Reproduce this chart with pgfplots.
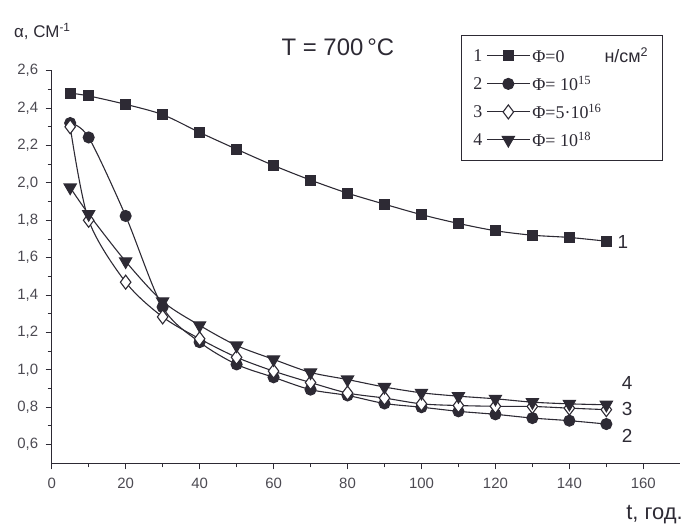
\documentclass[border=0pt]{standalone}
\usepackage{fontspec}
\setmainfont{Liberation Sans}
\newfontfamily\legfont{Liberation Serif}
\usepackage{pgfplots}
\pgfplotsset{compat=1.18}
\definecolor{ink}{RGB}{45,42,52}

\pgfplotsset{
  numleg/.style={legend image code/.code={
    \node[anchor=base east,inner sep=0pt,text=ink,font=\legfont\fontsize{18}{20}\selectfont] at (-4bp,-6bp) {#1};
    \draw[##1,mark repeat=2,mark phase=2] plot coordinates {(0bp,0bp) (21.5bp,0bp) (43bp,0bp)};
  }},
}

\begin{document}
\begin{tikzpicture}
\begin{axis}[
  name=ax, scale only axis, width=628.6bp, height=392.6bp,
  xmin=0, xmax=170, ymin=0.5, ymax=2.6,
  clip=false,
  axis x line*=bottom, axis y line*=left,
  axis line style={ink, line width=1.1pt, -},
  xtick={0,20,40,60,80,100,120,140,160},
  ytick={0.6,0.8,1.0,1.2,1.4,1.6,1.8,2.0,2.2,2.4,2.6},
  minor x tick num=1, minor y tick num=1,
  tick align=outside, major tick length=6bp, minor tick length=4bp,
  every tick/.style={ink, line width=0.9pt},
  tick label style={font=\fontsize{15}{17}\selectfont, text=ink!85},
  /pgf/number format/assume math mode=true,
  yticklabel style={xshift=-4bp, /pgf/number format/.cd, fixed, fixed zerofill, precision=1, use comma},
  xticklabel style={yshift=-5bp},
  legend style={at={(0.651,1.091)}, anchor=north west, draw=ink, line width=0.8pt,
    font=\legfont\fontsize{18}{20}\selectfont, text=ink,
    inner xsep=12bp, inner ysep=10bp, row sep=8bp,
    legend cell align=left},
  every axis plot/.append style={line width=1.1pt, color=ink},
]
% 1: F = 0
\addplot[smooth, mark=square*, mark size=5bp, mark options={fill=ink}, numleg=1] coordinates {
  (5,2.48) (10,2.465) (20,2.42) (30,2.365) (40,2.27) (50,2.18) (60,2.093) (70,2.015)
  (80,1.945) (90,1.886) (100,1.83) (110,1.783) (120,1.744) (130,1.72) (140,1.708) (150,1.688)
};
\addlegendentry{Φ=0\hspace{40bp}{\rmfamily\fontsize{18}{20}\selectfont н/см\textsuperscript{2}}}
% 2: F = 1e15
\addplot[smooth, mark=*, mark size=5.5bp, mark options={fill=ink}, numleg=2] coordinates {
  (5,2.32) (10,2.243) (20,1.823) (30,1.336) (40,1.148) (50,1.029) (60,0.96) (70,0.894)
  (80,0.863) (90,0.82) (100,0.80) (110,0.778) (120,0.762) (130,0.742) (140,0.728) (150,0.71)
};
\addlegendentry{Φ= 10\textsuperscript{15}}
% 3: F = 5e16
\addplot[smooth, mark=diamond*, mark size=7bp, mark options={fill=white}, numleg=3] coordinates {
  (5,2.30) (10,1.80) (20,1.469) (30,1.283) (40,1.166) (50,1.067) (60,0.993) (70,0.932)
  (80,0.876) (90,0.849) (100,0.818) (110,0.809) (120,0.805) (130,0.804) (140,0.795) (150,0.787)
};
\addlegendentry{Φ=5·10\textsuperscript{16}}
% 4: F = 1e18
\addplot[smooth, mark=triangle*, mark size=7bp, mark options={fill=ink, rotate=180}, numleg=4] coordinates {
  (5,1.975) (10,1.833) (20,1.58) (30,1.366) (40,1.238) (50,1.13) (60,1.056) (70,0.986)
  (80,0.948) (90,0.908) (100,0.877) (110,0.859) (120,0.845) (130,0.827) (140,0.818) (150,0.813)
};
\addlegendentry{Φ= 10\textsuperscript{18}}

\node[font=\fontsize{24}{28}\selectfont, text=ink] at (axis cs:77.4,2.727) {T = 700\,°C};
\node[anchor=base west, inner sep=0pt, font=\fontsize{17}{20}\selectfont, text=ink] at (axis cs:-10.2,2.775) {α, СМ\textsuperscript{-1}};
\node[anchor=base east, inner sep=0pt, font=\fontsize{22}{26}\selectfont, text=ink] at (axis cs:170.7,0.197) {t, год.};
\begin{scope}[every node/.style={inner sep=0pt, font=\fontsize{19}{22}\selectfont, text=ink}]
\node at (axis cs:154.5,1.684) {1};
\node at (axis cs:155.6,0.932) {4};
\node at (axis cs:155.6,0.790) {3};
\node at (axis cs:155.6,0.649) {2};
\end{scope}
\end{axis}
\path (ax.south west) ++(-51.7bp,-62.7bp) rectangle ++(684bp,526bp);
\end{tikzpicture}
\end{document}
